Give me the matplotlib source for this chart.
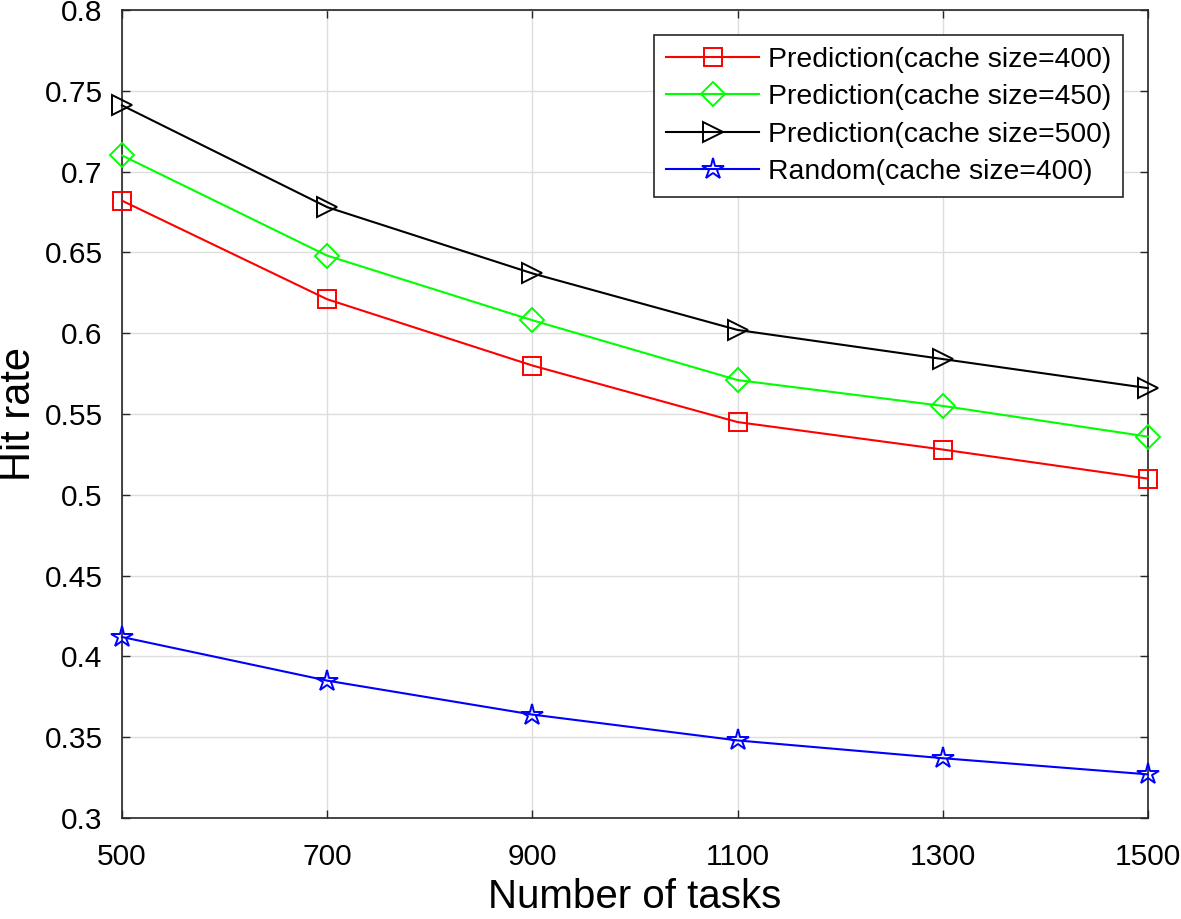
import matplotlib
matplotlib.use("Agg")
import matplotlib.pyplot as plt

tasks = [500, 700, 900, 1100, 1300, 1500]
pred_400 = [0.682, 0.621, 0.580, 0.545, 0.528, 0.510]
pred_450 = [0.710, 0.648, 0.608, 0.571, 0.555, 0.536]
pred_500 = [0.741, 0.678, 0.637, 0.602, 0.584, 0.566]
random_400 = [0.412, 0.385, 0.364, 0.348, 0.337, 0.327]
labels = ["Prediction(cache size=400)", "Prediction(cache size=450)",
          "Prediction(cache size=500)", "Random(cache size=400)"]
yticks = [0.3, 0.35, 0.4, 0.45, 0.5, 0.55, 0.6, 0.65, 0.7, 0.75, 0.8]
ytick_labels = ["0.3", "0.35", "0.4", "0.45", "0.5", "0.55", "0.6", "0.65", "0.7", "0.75", "0.8"]

plt.rcParams['font.family'] = ['Liberation Sans', 'DejaVu Sans']

fig = plt.figure(figsize=(11.81, 9.19), dpi=100)
ax = fig.add_axes([122/1181, 1-818/919, (1148-122)/1181, (818-10)/919])

series = [
    (pred_400, '#ff0000', 's', 12.5),
    (pred_450, '#00ff00', 'D', 12),
    (pred_500, '#000000', '>', 15),
    (random_400, '#0000ff', '*', 16),
]
for (vals, col, mk, ms), lab in zip(series, labels):
    ax.plot(tasks, vals, color=col, marker=mk, markersize=ms, markerfacecolor='none',
            markeredgecolor=col, markeredgewidth=1.4, linewidth=1.5, label=lab, clip_on=False, zorder=3)

ax.set_xlim(500, 1500)
ax.set_ylim(0.3, 0.8)
ax.set_xticks(tasks)
ax.set_xticklabels([str(t) for t in tasks])
ax.set_yticks(yticks)
ax.set_yticklabels(ytick_labels)
ax.tick_params(direction='in', length=6, width=1, labelsize=21.5, top=True, right=True,
               colors='#262626', labelcolor='black')
ax.tick_params(axis='x', pad=18)
ax.tick_params(axis='y', pad=14)
ax.grid(True, color='#dddddd', linewidth=1)
ax.set_axisbelow(True)
for sp in ax.spines.values():
    sp.set_color('#262626')
    sp.set_linewidth(1.2)
ax.set_xlabel("Number of tasks", fontsize=29, labelpad=5)
ax.set_ylabel("Hit rate", fontsize=30, labelpad=4)

leg = ax.legend(loc='upper right', bbox_to_anchor=(1 - 25/1026, 1 - 25/808), fontsize=20.4, fancybox=False,
                edgecolor='#262626', framealpha=1, handlelength=3.3, borderpad=0.42,
                labelspacing=0.4, handletextpad=0.3, borderaxespad=0)
leg.get_frame().set_linewidth(1.2)

fig.savefig("out.png", dpi=100)
